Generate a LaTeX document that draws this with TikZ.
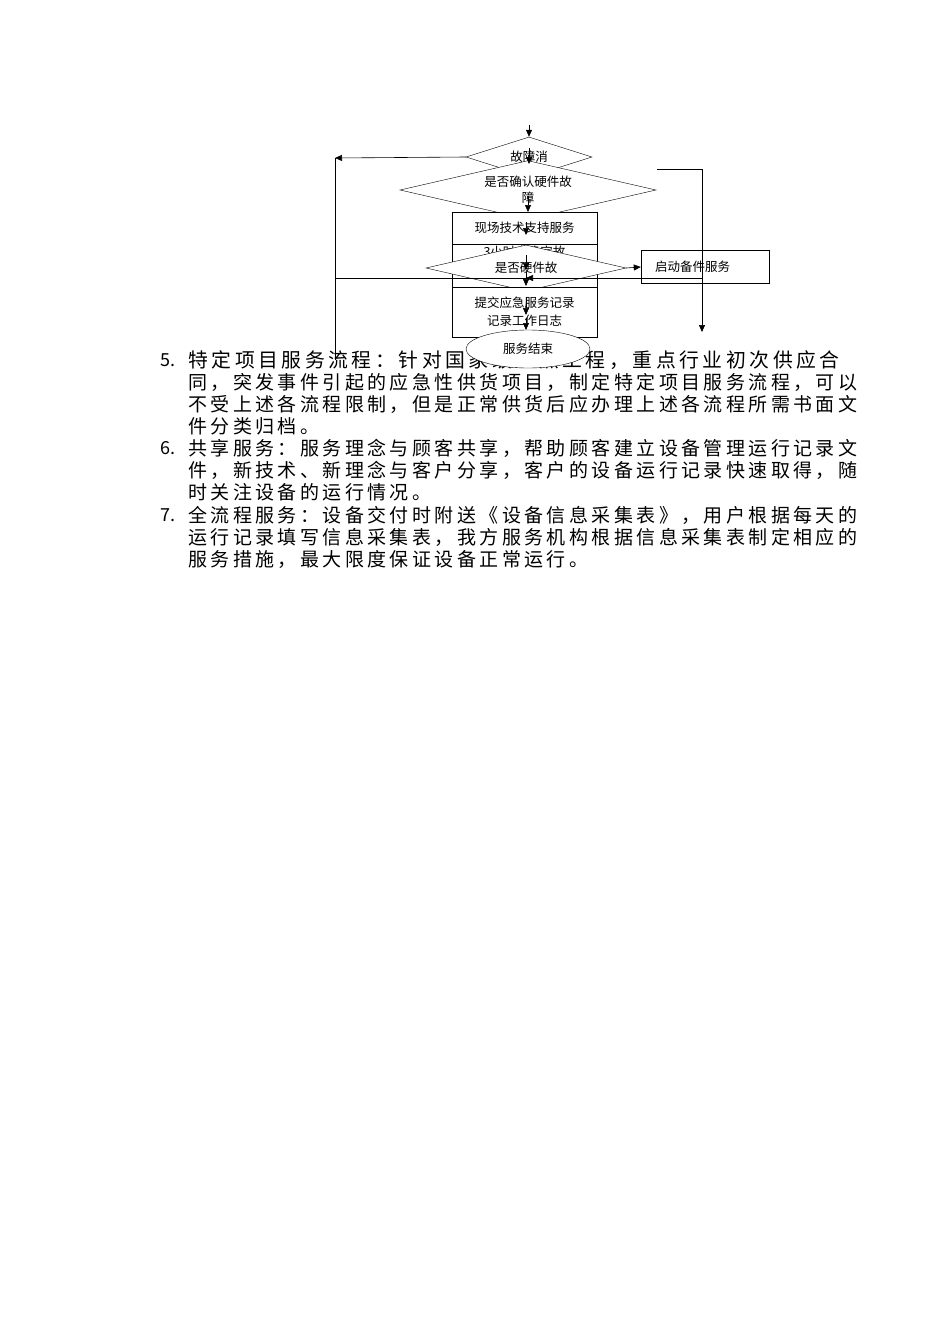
\documentclass[tikz,border=0pt]{standalone}
\usepackage{fontspec}
\usetikzlibrary{shapes.geometric,arrows.meta}
\newfontfamily\cjk{Noto Sans CJK SC}
\newfontfamily\cjkb[LetterSpace=18]{Noto Sans CJK SC}
\begin{document}
\begin{tikzpicture}[x=1pt,y=-1pt,
  txt/.style={anchor=west,inner sep=0pt,font=\cjkb\fontsize{19}{20}\selectfont},
  txtw/.style={anchor=west,inner sep=0pt,font=\cjkb\fontsize{19.83}{20}\selectfont},
  num/.style={anchor=west,inner sep=0pt,font=\cjk\fontsize{18}{20}\selectfont},
  lbl/.style={font=\cjk\fontsize{12.5}{14}\selectfont},
  dia/.style={draw,fill=white,diamond,aspect=2.8,inner sep=0pt},
  bx/.style={draw,fill=white,rectangle,inner sep=0pt},
  ar/.style={-{Triangle[length=7pt,width=6pt]},line width=0.6pt},
  ln/.style={line width=0.6pt}]
\useasboundingbox (0,0) rectangle (950,1344);
% text
\node[num] (n5) at (160,360) {5.};
\node[txtw] (l1) at (188,360) {特定项目服务流程：针对国家级重点工程，重点行业初次供应合};
\node[txt] (l2) at (188,382) {同，突发事件引起的应急性供货项目，制定特定项目服务流程，可以};
\node[txt] (l3) at (188,404) {不受上述各流程限制，但是正常供货后应办理上述各流程所需书面文};
\node[txt] (l4) at (188,426) {件分类归档。};
\node[num] (n6) at (160,448) {6.};
\node[txt] (l5) at (188,448) {共享服务：服务理念与顾客共享，帮助顾客建立设备管理运行记录文};
\node[txt] (l6) at (188,470) {件，新技术、新理念与客户分享，客户的设备运行记录快速取得，随};
\node[txt] (l7) at (188,492) {时关注设备的运行情况。};
\node[num] (n7) at (160,515) {7.};
\node[txt] (l8) at (188,515) {全流程服务：设备交付时附送《设备信息采集表》，用户根据每天的};
\node[txt] (l9) at (188,537) {运行记录填写信息采集表，我方服务机构根据信息采集表制定相应的};
\node[txt] (l10) at (188,559) {服务措施，最大限度保证设备正常运行。};
% flowchart
\coordinate (top) at (529,125);
\node[dia,minimum width=126pt,minimum height=40pt,lbl] (d1) at (529,157) {故障消};
\node[dia,minimum width=256pt,minimum height=44pt,lbl,align=center] (d2) at (528,190) {是否确认硬件故\\[2pt]障};
\node[bx,minimum width=145pt,minimum height=32pt,lbl] (b1) at (524.5,228) {现场技术支持服务};
\node[bx,minimum width=145pt,minimum height=43pt,lbl,anchor=north] (b2) at (524.5,244) {};
\node[lbl] (b2t) at (524.5,252) {3小时内确定故};
\node[dia,minimum width=200pt,minimum height=46pt,lbl] (d3) at (526,268) {是否硬件故};
\node[bx,minimum width=145pt,minimum height=50pt,lbl,align=center,anchor=north] (b3) at (524.5,287) {提交应急服务记录\\[4pt]记录工作日志};
\node[draw,fill=white,ellipse,minimum width=124pt,minimum height=38pt,inner sep=0pt,lbl] (e) at (528,349) {服务结束};
\node[draw,rectangle,minimum width=128pt,minimum height=33pt,inner sep=0pt,lbl] (sp) at (705,267) {\hspace*{-25pt}启动备件服务};
% connectors
\coordinate (lt) at (335,158);
\coordinate (lb) at (335,360);
\coordinate (r0) at (657,169);
\coordinate (r1) at (702,169);
\coordinate (r2) at (702,332);
\coordinate (h1) at (702,278);
\coordinate (h2) at (335,278);
\draw[ar] (top) -- (d1.north);
\draw[ar] (d1.west) -- (lt);
\draw[ln] (lt) -- (lb);
\draw[ar] (529,148) -- (529,164);
\draw[ar] (528,196) -- (528,212);
\draw[ar] (526,222) -- (526,235);
\draw[ar] (526,255) -- (526,270);
\draw[ar] (526,272) -- (526,286);
\draw[ar] (526,297) -- (526,315);
\draw[ar] (526,318) -- (526,330);
\draw[ar] (d3.east) -- (sp.west);
\draw[ln] (r0) -- (r1);
\draw[ar] (r1) -- (r2);
\draw[ln] (h1) -- (h2);
\draw[ar] (600,278) -- (526,278);
\end{tikzpicture}
\end{document}
